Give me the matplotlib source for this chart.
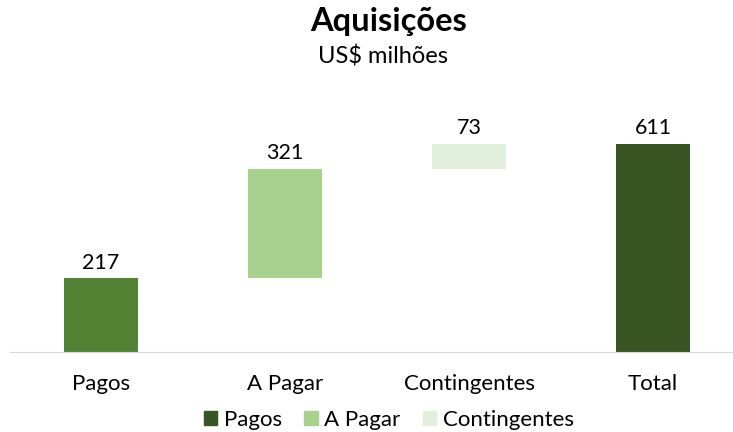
import numpy as np
import matplotlib.pyplot as plt
from matplotlib.patches import Patch

categories = ['Pagos', 'A Pagar', 'Contingentes', 'Total']
values = [217, 321, 73, 611]
bottoms = [0, 217, 538, 0]
labels = ['217', '321', '73', '611']
bar_colors = ['#548235', '#A9D18E', '#E2EFDA', '#375623']
legend_names = ['Pagos', 'A Pagar', 'Contingentes']
legend_colors = ['#375623', '#A9D18E', '#E2EFDA']

plt.rcParams['font.family'] = ['Lato', 'DejaVu Sans']

fig = plt.figure(figsize=(7.33, 4.32), dpi=100)
ax = fig.add_axes([10/733, 80/432, 723/733, 252/432])

x = np.arange(len(categories))
ax.bar(x, values, bottom=bottoms, width=0.4, color=bar_colors)
for i in range(len(categories)):
    ax.text(x[i], bottoms[i] + values[i] + 16, labels[i], ha='center', va='bottom',
            fontsize=15.5, color='#000000')

ax.set_xlim(-0.4946, 3.434)
ax.set_ylim(0, 740)
ax.set_xticks(x)
ax.set_xticklabels(categories, fontsize=16)
ax.tick_params(axis='x', length=0, pad=16)
ax.set_yticks([])
for s in ['top', 'right', 'left']:
    ax.spines[s].set_visible(False)
ax.spines['bottom'].set_color('#D9D9D9')

fig.text(389/733, 1 - 22/432, 'Aquisições', ha='center', va='center', fontsize=23.5, fontweight='bold')
fig.text(383/733, 1 - 57/432, 'US$ milhões', ha='center', va='center', fontsize=17)

handles = [Patch(color=c, label=n) for n, c in zip(legend_names, legend_colors)]
fig.legend(handles=handles, loc='center', bbox_to_anchor=(389/733, 1 - 420/432), ncol=3,
           frameon=False, fontsize=16, handlelength=0.6, handleheight=0.6,
           handletextpad=0.3, columnspacing=1.0)

fig.savefig('out.png', dpi=100)
